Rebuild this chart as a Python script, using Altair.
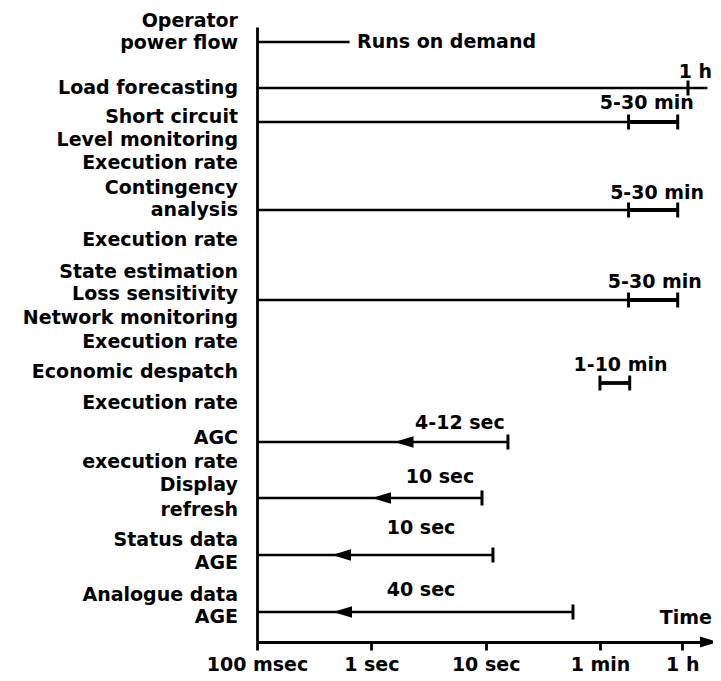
import altair as alt
import pandas as pd

FONT = "DejaVu Sans"
FS = 19

# ---- left-hand descriptive labels (row = vertical position, top = small) ----
label_text = ["Operator", "power flow", "Load forecasting", "Short circuit", "Level monitoring",
              "Execution rate", "Contingency", "analysis", "Execution rate", "State estimation",
              "Loss sensitivity", "Network monitoring", "Execution rate", "Economic despatch",
              "Execution rate", "AGC", "execution rate", "Display", "refresh", "Status data",
              "AGE", "Analogue data", "AGE"]
label_row = [21, 43, 88, 117, 140, 163, 188, 210, 240, 272, 294, 318, 342, 372, 403,
             438, 462, 485, 510, 540, 563, 595, 617]

# ---- time lines (x in decade units: 0=100 msec, 1=1 sec, 2=10 sec, 3=1 min, 3.72=1 h) ----
line_name = ["Operator power flow", "Load forecasting", "Short circuit", "Contingency analysis",
             "Loss sensitivity", "AGC", "Display refresh", "Status data AGE", "Analogue data AGE"]
line_row = [42, 88, 122, 210, 300, 442, 498, 555, 612]
line_end = [0.81, 3.94, 3.68, 3.68, 3.68, 2.195, 1.968, 2.064, 2.764]

# ---- execution-rate ranges (brackets) ----
range_row = [122, 210, 300, 383]
range_start = [3.25, 3.25, 3.25, 3.0]
range_end = [3.68, 3.68, 3.68, 3.26]

# ---- vertical end ticks ----
tick_x = [3.77, 3.25, 3.68, 3.25, 3.68, 3.25, 3.68, 3.0, 3.26, 2.195, 1.968, 2.064, 2.764]
tick_row = [88, 122, 122, 210, 210, 300, 300, 383, 383, 442, 498, 555, 612]

# ---- arrow heads (pointing left) ----
arrow_x = [1.286, 1.089, 0.739, 0.748]
arrow_row = [442, 498, 555, 612]

# ---- annotations ----
note_text = ["Runs on demand", "1 h", "5-30 min", "5-30 min", "5-30 min", "1-10 min",
             "4-12 sec", "10 sec", "10 sec", "40 sec", "Time"]
note_x = [0.875, 3.98, 3.41, 3.50, 3.48, 3.18, 1.775, 1.60, 1.435, 1.435, 3.98]
note_row = [42, 72, 103, 193, 282, 365, 423, 477, 528, 590, 618]
note_align = ["left", "right", "center", "center", "center", "center", "center", "center",
              "center", "center", "right"]

# ---- x axis ticks ----
axis_pos = [0, 1, 2, 3, 3.72]
axis_lab = ["100 msec", "1 sec", "10 sec", "1 min", "1 h"]

label_expr = " : ".join(
    f"datum.value == {p} ? '{l}'" for p, l in zip(axis_pos, axis_lab)
) + " : ''"

xs = alt.Scale(domain=[0, 3.98], nice=False, zero=False)
ys = alt.Scale(domain=[27, 642], reverse=True, nice=False, zero=False)

lines_df = pd.DataFrame({"name": line_name, "row": line_row, "start": 0.0, "end": line_end})
base_lines = alt.Chart(lines_df).mark_rule(color="black", strokeWidth=2.6).encode(
    x=alt.X("start:Q", scale=xs,
            axis=alt.Axis(values=axis_pos, labelExpr=label_expr, title=None, grid=False,
                          domainColor="black", domainWidth=2.8, tickColor="black",
                          tickWidth=2.8, tickSize=8, labelFont=FONT, labelFontSize=FS,
                          labelFontWeight="bold", labelColor="black", labelPadding=5,
                          labelFlush=False)),
    x2="end:Q",
    y=alt.Y("row:Q", scale=ys,
            axis=alt.Axis(labels=False, ticks=False, title=None, grid=False,
                          domainColor="black", domainWidth=2.8)),
)

range_df = pd.DataFrame({"row": range_row, "start": range_start, "end": range_end})
ranges = alt.Chart(range_df).mark_rule(color="black", strokeWidth=3.8).encode(
    x=alt.X("start:Q", scale=xs), x2="end:Q", y=alt.Y("row:Q", scale=ys))

tick_df = pd.DataFrame({"x": tick_x, "row": tick_row})
ticks = alt.Chart(tick_df).mark_tick(orient="vertical", color="black", size=15,
                                     thickness=3, opacity=1).encode(
    x=alt.X("x:Q", scale=xs), y=alt.Y("row:Q", scale=ys))

arrow_df = pd.DataFrame({"x": arrow_x, "row": arrow_row})
arrows = alt.Chart(arrow_df).mark_point(shape="M -1 0 L 1 -0.6 L 1 0.6 Z", size=361,
                                        filled=True, color="black", opacity=1).encode(
    x=alt.X("x:Q", scale=xs), y=alt.Y("row:Q", scale=ys))

axis_arrow_df = pd.DataFrame({"x": [3.953], "row": [642]})
axis_arrow = alt.Chart(axis_arrow_df).mark_point(shape="M 1 0 L -1 -0.6 L -1 0.6 Z", size=324,
                                                 filled=True, color="black", opacity=1).encode(
    x=alt.X("x:Q", scale=xs), y=alt.Y("row:Q", scale=ys))

labels_df = pd.DataFrame({"text": label_text, "row": label_row, "x": 0.0})
labels = alt.Chart(labels_df).mark_text(align="right", baseline="middle", dx=-19, font=FONT,
                                        fontSize=FS, fontWeight="bold", color="black").encode(
    x=alt.X("x:Q", scale=xs), y=alt.Y("row:Q", scale=ys), text="text:N")

notes_df = pd.DataFrame({"text": note_text, "x": note_x, "row": note_row, "align": note_align})


def note_layer(al):
    sub = notes_df[notes_df["align"] == al]
    return alt.Chart(sub).mark_text(
        align=al, baseline="middle", font=FONT, fontSize=FS, fontWeight="bold",
        color="black").encode(x=alt.X("x:Q", scale=xs), y=alt.Y("row:Q", scale=ys),
                              text="text:N")


chart = alt.layer(base_lines, ranges, ticks, arrows, axis_arrow, labels,
                  note_layer("left"), note_layer("center"), note_layer("right")).properties(
    width=455, height=615,
    autosize=alt.AutoSizeParams(type="none"),
    padding={"left": 249, "top": 19, "right": 1, "bottom": 31},
    background="white",
).configure_view(stroke=None)

chart.save("out.html", embed_options={"renderer": "svg", "actions": False})
